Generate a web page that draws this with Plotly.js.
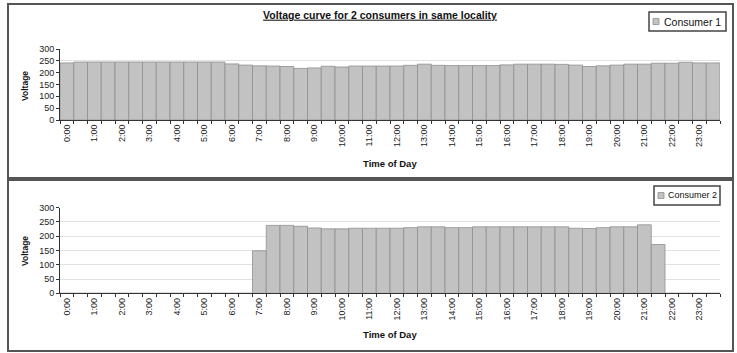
<!DOCTYPE html>
<html><head><meta charset="utf-8">
<script src="https://cdn.plot.ly/plotly-3.0.1.min.js"></script>
<style>html,body{margin:0;padding:0;background:#fff}#chart{width:737px;height:353px}</style>
</head><body><div id="chart"></div>
<script>
const categories = ["0:00","0:30","1:00","1:30","2:00","2:30","3:00","3:30","4:00","4:30","5:00","5:30",
  "6:00","6:30","7:00","7:30","8:00","8:30","9:00","9:30","10:00","10:30","11:00","11:30",
  "12:00","12:30","13:00","13:30","14:00","14:30","15:00","15:30","16:00","16:30","17:00","17:30",
  "18:00","18:30","19:00","19:30","20:00","20:30","21:00","21:30","22:00","22:30","23:00","23:30"];
const hourLabels = ["0:00","1:00","2:00","3:00","4:00","5:00","6:00","7:00","8:00","9:00","10:00","11:00",
  "12:00","13:00","14:00","15:00","16:00","17:00","18:00","19:00","20:00","21:00","22:00","23:00"];
const consumer1 = [241,245,245,245,245,245,245,245,245,245,245,245,
  237,232,229,228,226,218,220,227,224,228,228,228,
  228,231,236,231,230,230,230,230,233,236,236,236,
  235,232,226,229,232,236,236,240,240,244,241,241];
const consumer2 = [0,0,0,0,0,0,0,0,0,0,0,0,
  0,0,149,238,238,235,229,226,226,228,228,228,
  228,230,233,233,230,230,233,233,233,233,233,233,
  233,228,227,230,233,233,240,171,0,0,0,0];
const seriesNames = ["Consumer 1","Consumer 2"];
const chartTitle = "Voltage curve for 2 consumers in same locality";
const yTitle = "Voltage";
const xTitle = "Time of Day";
const yTicks = [0,50,100,150,200,250,300];

const W = 737, H = 353;
const px = x => x / W;
const py = y => 1 - y / H;
const FONT = "Liberation Sans, Arial, sans-serif";
const tickText = categories.map((c, i) => (i % 2 === 0 ? hourLabels[i / 2] : ""));
const barColor = "#c2c2c2", barLine = "#8f8f8f", axisColor = "#333";

const traces = [
  {type: "bar", x: categories, y: consumer1, name: seriesNames[0], xaxis: "x", yaxis: "y",
   marker: {color: barColor, line: {color: barLine, width: 0.8}}, showlegend: false},
  {type: "bar", x: categories, y: consumer2, name: seriesNames[1], xaxis: "x2", yaxis: "y2",
   marker: {color: barColor, line: {color: barLine, width: 0.8}}, showlegend: false}
];

function xAxis(anchor) {
  return {
    domain: [px(60), px(720)], anchor: anchor, type: "category",
    categoryorder: "array", categoryarray: categories,
    tickmode: "array", tickvals: categories, ticktext: tickText,
    tickangle: -90, tickson: "boundaries", ticks: "outside", ticklen: 3,
    tickcolor: axisColor, showline: true, linecolor: axisColor, linewidth: 1,
    showgrid: false, zeroline: false, range: [-0.5, 47.5], fixedrange: true,
    tickfont: {family: FONT, size: 9, color: "#222"}
  };
}
function yAxis(anchor, top, bottom) {
  return {
    domain: [py(bottom), py(top)], anchor: anchor, range: [0, 300],
    tickmode: "array", tickvals: yTicks, ticks: "outside", ticklen: 3,
    tickcolor: axisColor, showline: true, linecolor: axisColor, linewidth: 1,
    showgrid: true, gridcolor: "#e2e2e2", gridwidth: 1, zeroline: false,
    tickfont: {family: FONT, size: 9, color: "#222"}, fixedrange: true
  };
}

const panel = (y0, y1) => ({type: "rect", xref: "paper", yref: "paper",
  x0: px(8), x1: px(733), y0: py(y1), y1: py(y0), line: {color: "#555", width: 2}, layer: "above"});
const legendBox = (x0, x1, y0, y1) => ({type: "rect", xref: "paper", yref: "paper",
  x0: px(x0), x1: px(x1), y0: py(y1), y1: py(y0), line: {color: "#444", width: 1.5}});
const legendSym = (x0, x1, y0, y1) => ({type: "rect", xref: "paper", yref: "paper",
  x0: px(x0), x1: px(x1), y0: py(y1), y1: py(y0), fillcolor: barColor, line: {color: barLine, width: 0.8}});

const ann = (text, x, y, size, extra) => Object.assign({
  text: text, x: px(x), y: py(y), xref: "paper", yref: "paper", showarrow: false,
  xanchor: "center", yanchor: "middle", font: {family: FONT, size: size, color: "#111"}
}, extra || {});

const layout = {
  width: W, height: H, margin: {l: 0, r: 0, t: 0, b: 0},
  paper_bgcolor: "#fff", plot_bgcolor: "#fff", bargap: 0,
  title: {text: "<b><u>" + chartTitle + "</u></b>", x: px(380), y: py(15), xref: "paper", yref: "paper",
    xanchor: "center", yanchor: "middle", font: {family: FONT, size: 10.5, color: "#111"}},
  xaxis: xAxis("y"), yaxis: yAxis("x", 49, 120),
  xaxis2: xAxis("y2"), yaxis2: yAxis("x2", 207.7, 293.3),
  shapes: [panel(4, 178), panel(180, 351),
    legendBox(649, 726, 12, 31), legendSym(653, 659, 18.5, 24.5),
    legendBox(654, 720, 186, 205), legendSym(658, 664, 192.5, 198.5)],
  annotations: [
    ann("<b>" + yTitle + "</b>", 25, 86, 8.5, {textangle: -90}),
    ann("<b>" + yTitle + "</b>", 25, 251, 8.5, {textangle: -90}),
    ann("<b>" + xTitle + "</b>", 390, 163, 9.5),
    ann("<b>" + xTitle + "</b>", 390, 334, 9.5),
    ann(seriesNames[0], 662, 21.5, 10.5, {xanchor: "left"}),
    ann(seriesNames[1], 666, 195.5, 9, {xanchor: "left"})
  ]
};

Plotly.newPlot("chart", traces, layout, {staticPlot: true, displayModeBar: false});
</script></body></html>
